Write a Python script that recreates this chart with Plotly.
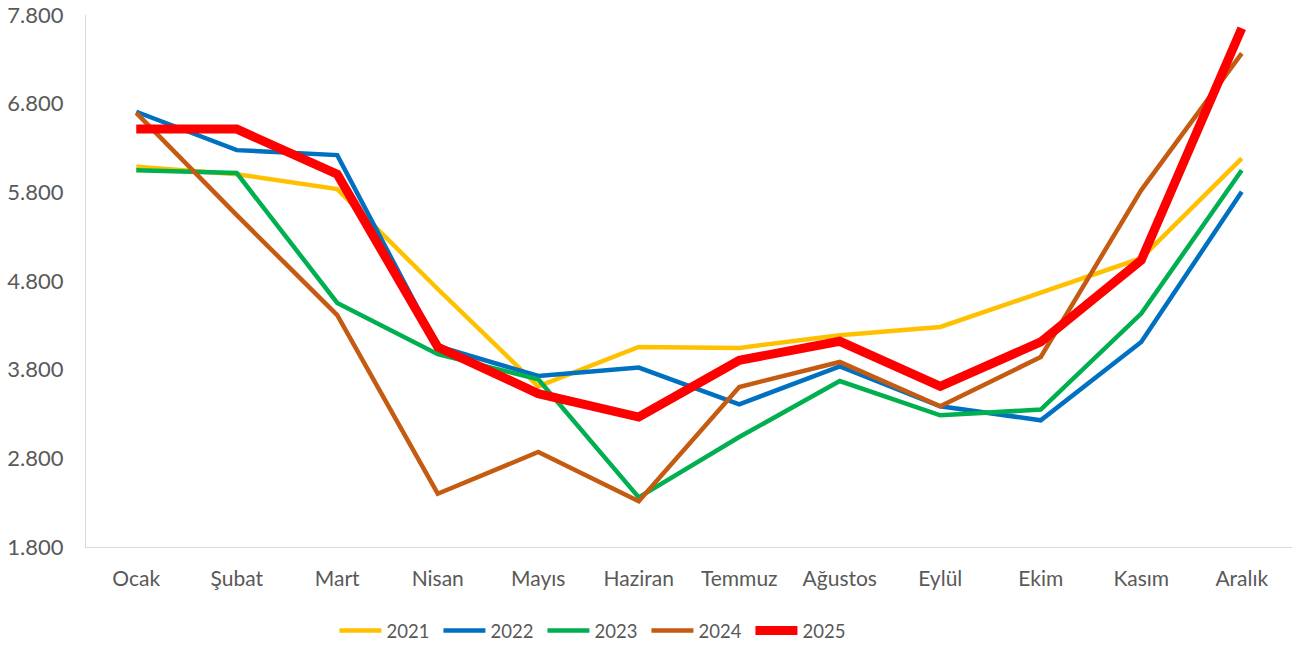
import plotly.graph_objects as go

months = ["Ocak", "Şubat", "Mart", "Nisan", "Mayıs", "Haziran",
          "Temmuz", "Ağustos", "Eylül", "Ekim", "Kasım", "Aralık"]

y2021 = [6088, 6005, 5836, 4710, 3612, 4056, 4045, 4188, 4282, 4666, 5057, 6183]
y2022 = [6709, 6276, 6220, 4064, 3729, 3824, 3409, 3838, 3387, 3229, 4113, 5806]
y2023 = [6050, 6017, 4553, 3974, 3692, 2360, 3040, 3672, 3285, 3350, 4433, 6050]
y2024 = [6697, 5543, 4414, 2401, 2871, 2315, 3605, 3887, 3387, 3943, 5825, 7368]
y2025 = [6513, 6513, 6005, 4056, 3530, 3266, 3906, 4120, 3612, 4113, 5035, 7650]

yticks = [1800, 2800, 3800, 4800, 5800, 6800, 7800]

series = [
    ("2021", y2021, "#FFC000", 4.5),
    ("2022", y2022, "#0070C0", 4.5),
    ("2023", y2023, "#00B050", 4.5),
    ("2024", y2024, "#C55A11", 4.5),
    ("2025", y2025, "#FF0000", 9),
]

fig = go.Figure()
for name, vals, color, w in series:
    fig.add_trace(go.Scatter(
        x=months, y=vals, name=name, mode="lines",
        line=dict(color=color, width=w),
    ))

fig.update_layout(
    width=1294, height=645,
    margin=dict(l=86, r=2, t=15, b=98, autoexpand=False),
    paper_bgcolor="white", plot_bgcolor="white",
    font=dict(family="Lato", color="#595959", size=21),
    separators=",.",
    showlegend=True,
    legend=dict(orientation="h", x=0.206, xanchor="left", y=-0.158, yanchor="middle",
                font=dict(size=18.5, color="#595959"), entrywidth=47,
                itemwidth=42),
)
fig.update_xaxes(
    type="category", range=[-0.5, 11.5], automargin=False,
    showline=True, linecolor="#D9D9D9", linewidth=1,
    showgrid=False, zeroline=False,
    ticks="outside", ticklen=13, tickcolor="white",
    tickfont=dict(size=21, color="#595959"),
)
fig.update_yaxes(
    range=[1800, 7800], tickvals=yticks, tickformat=",.0f", automargin=False,
    showline=True, linecolor="#D9D9D9", linewidth=1,
    showgrid=False, zeroline=False,
    ticks="outside", ticklen=17, tickcolor="white",
    tickfont=dict(size=22, color="#595959"),
)

fig.write_html("out.html",
               config={"displayModeBar": False},
               post_script="document.body.style.margin='0';document.body.style.overflow='hidden';")
